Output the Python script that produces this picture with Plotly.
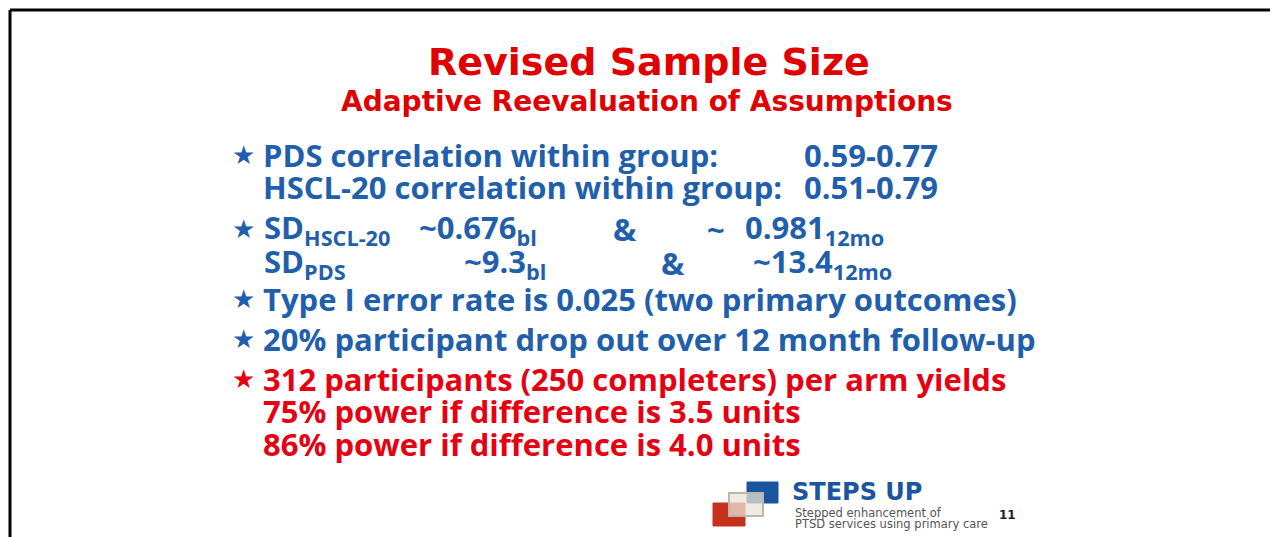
import plotly.graph_objects as go

W, H = 1278, 537
OFF = 8  # default page body margin
FW, FH = W - OFF, H - OFF

title = "Revised Sample Size"
subtitle = "Adaptive Reevaluation of Assumptions"

# bullet lines: (text, colour key, star?)
bullets = [
    ("PDS correlation within group:", "blue", True),
    ("HSCL-20 correlation within group:", "blue", False),
    ("Type I error rate is 0.025 (two primary outcomes)", "blue", True),
    ("20% participant drop out over 12 month follow-up", "blue", True),
    ("312 participants (250 completers) per arm yields", "red", True),
    ("75% power if difference is 3.5 units", "red", False),
    ("86% power if difference is 4.0 units", "red", False),
]
bullet_y = [155, 187, 299, 339, 379, 411, 444]

corr_values = ["0.59-0.77", "0.51-0.79"]
corr_y = [155, 187]

sd_rows = [
    ("SD<sub>HSCL-20</sub>", "~0.676<sub>bl</sub>", "&", "~", "0.981<sub>12mo</sub>"),
    ("SD<sub>PDS</sub>", "~9.3<sub>bl</sub>", "&", "", "~13.4<sub>12mo</sub>"),
]
sd_y = [229, 263]
sd_x = [
    (262, 417, 611, 705, 743),
    (262, 462, 659, None, 751),
]

BLUE = "#1F5FAB"
RED = "#E60012"
TITLE_RED = "#E00000"
colors = {"blue": BLUE, "red": RED}
FONT = "Open Sans"

def px(x):
    return (x - OFF) / FW

def py(y):
    return 1 - (y - OFF) / FH

anns = []

def add(text, x, y, size, color, family=FONT, xanchor="left", yanchor="middle"):
    anns.append(dict(text=text, x=px(x), y=py(y), xref="paper", yref="paper",
                     showarrow=False, xanchor=xanchor, yanchor=yanchor,
                     font=dict(size=size, color=color, family=family)))

add("<b>" + title + "</b>", 649, 62, 38, TITLE_RED, family="DejaVu Sans", xanchor="center")
add("<b>" + subtitle + "</b>", 647, 101, 28, TITLE_RED, family="DejaVu Sans", xanchor="center")

BODY = 31
STAR = 26
for (txt, ck, star), y in zip(bullets, bullet_y):
    c = colors[ck]
    if star:
        add("★", 230, y, STAR, c, family="DejaVu Sans")
    add("<b>" + txt + "</b>", 261, y, BODY, c)

for v, y in zip(corr_values, corr_y):
    add("<b>" + v + "</b>", 802, y, BODY, BLUE)

for i, (row, xs, y) in enumerate(zip(sd_rows, sd_x, sd_y)):
    if i == 0:
        add("★", 230, y, STAR, BLUE, family="DejaVu Sans")
    for t, x in zip(row, xs):
        if t and x is not None:
            add("<b>" + t + "</b>", x, y, BODY, BLUE)

# frame and logo
shapes = [
    dict(type="line", xref="paper", yref="paper", x0=px(10), x1=px(W), y0=py(10), y1=py(10),
         line=dict(color="black", width=3)),
    dict(type="line", xref="paper", yref="paper", x0=px(10), x1=px(10), y0=py(10), y1=py(H),
         line=dict(color="black", width=3)),
    dict(type="rect", xref="paper", yref="paper", x0=px(747), x1=px(778), y0=py(503), y1=py(482),
         fillcolor="#1A56A0", line=dict(color="#1A56A0", width=1)),
    dict(type="rect", xref="paper", yref="paper", x0=px(713), x1=px(745), y0=py(526), y1=py(503),
         fillcolor="#C8301E", line=dict(color="#C8301E", width=1)),
    dict(type="rect", xref="paper", yref="paper", x0=px(729), x1=px(763), y0=py(516), y1=py(493),
         fillcolor="rgba(235,228,215,0.75)", line=dict(color="#BDB6AA", width=2)),
]
add("<b>STEPS UP</b>", 790, 492, 24, "#1A56A0", family="DejaVu Sans")
add("Stepped enhancement of", 793, 513, 11.5, "#555555", family="DejaVu Sans")
add("PTSD services using primary care", 793, 524, 11.5, "#555555", family="DejaVu Sans")
add("<b>11</b>", 997, 515, 12, "#222222", family="DejaVu Sans")

fig = go.Figure()
fig.update_layout(
    width=FW, height=FH, margin=dict(l=0, r=0, t=0, b=0),
    paper_bgcolor="white", plot_bgcolor="white",
    xaxis=dict(visible=False, range=[0, 1]), yaxis=dict(visible=False, range=[0, 1]),
    annotations=anns, shapes=shapes, showlegend=False,
)
fig.write_html("out.html")
